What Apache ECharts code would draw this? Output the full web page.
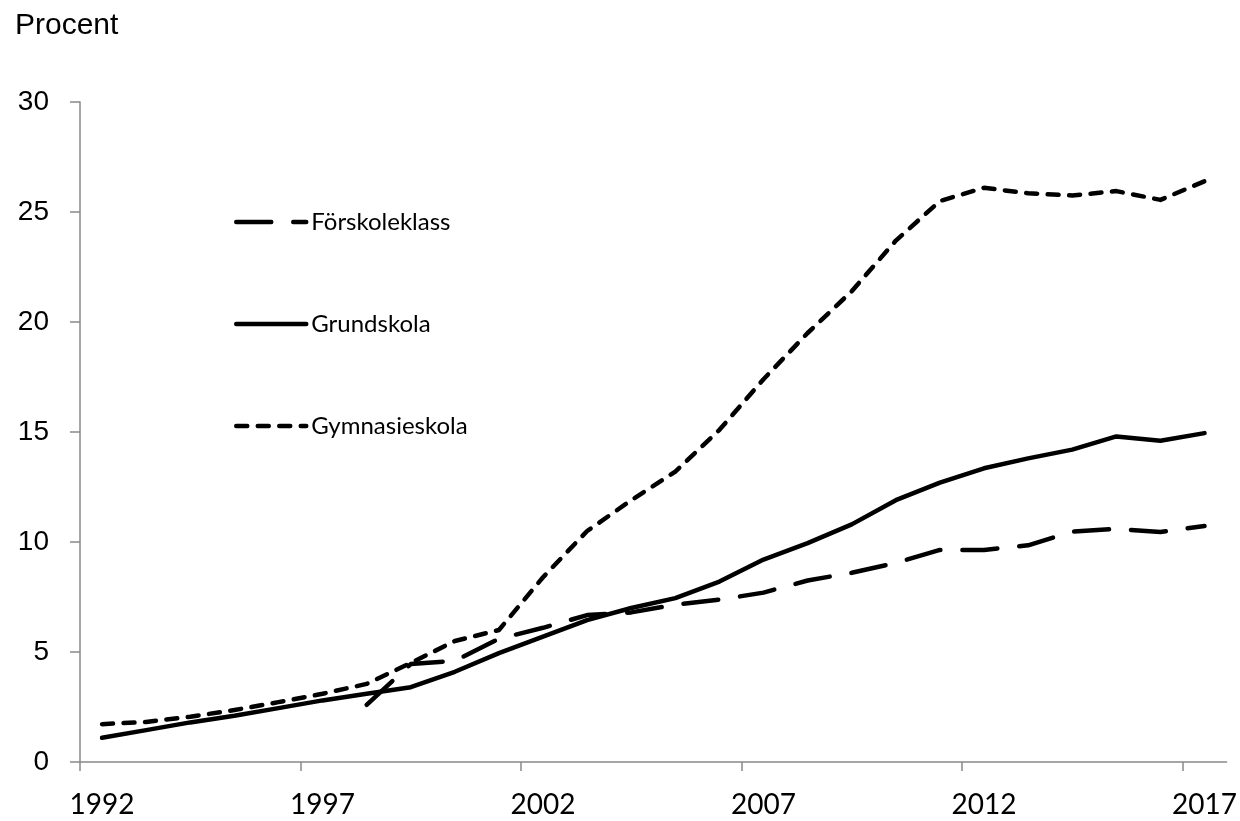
<!DOCTYPE html>
<html>
<head>
<meta charset="utf-8">
<script src="https://cdn.jsdelivr.net/npm/echarts@6/dist/echarts.min.js"></script>
<style>
html,body{margin:0;padding:0;background:#fff;}
#chart{width:1240px;height:821px;}
</style>
</head>
<body>
<div id="chart"></div>
<script>
var years = ['1992','1993','1994','1995','1996','1997','1998','1999','2000','2001','2002','2003','2004','2005','2006','2007','2008','2009','2010','2011','2012','2013','2014','2015','2016','2017'];
var forskoleklass = [null,null,null,null,null,null,2.6,4.45,4.6,5.6,6.1,6.68,6.8,7.15,7.38,7.7,8.25,8.6,9.05,9.64,9.64,9.85,10.47,10.6,10.45,10.73];
var grundskola = [1.1,1.45,1.8,2.1,2.45,2.8,3.1,3.4,4.1,4.95,5.7,6.45,7.0,7.45,8.2,9.2,9.95,10.8,11.9,12.7,13.35,13.8,14.2,14.8,14.6,14.95];
var gymnasieskola = [1.72,1.82,2.06,2.36,2.72,3.1,3.55,4.5,5.5,6.0,8.4,10.5,11.9,13.2,15.1,17.4,19.5,21.4,23.7,25.5,26.1,25.85,25.75,25.95,25.55,26.4];
var yTicks = {min:0, max:30, interval:5};
var tickEvery = 5;

var tickPositions = [];
for (var i = 0; i < years.length; i += tickEvery) tickPositions.push(i);

var chart = echarts.init(document.getElementById('chart'), null, {renderer:'canvas'});
var axisGray = '#898989';
chart.setOption({
  animation:false,
  backgroundColor:'#fff',
  title:{text:'Procent', left:15, top:11, padding:0, textStyle:{fontFamily:'Liberation Sans', fontSize:30, fontWeight:'normal', color:'#000', lineHeight:30}},
  legend:{
    orient:'vertical', left:234, top:210, padding:0, itemWidth:70, itemHeight:24, itemGap:78,
    textStyle:{fontFamily:'Lato', fontSize:24, color:'#000', lineHeight:24},
    itemStyle:{color:'rgba(0,0,0,0)', borderWidth:0, opacity:0},
    lineStyle:{width:4.5, cap:'round', join:'round'},
    data:['Förskoleklass','Grundskola','Gymnasieskola']
  },
  grid:{left:80, right:13, top:102, bottom:59, containLabel:false},
  xAxis:[{
    type:'category', data:years, boundaryGap:true,
    axisLine:{lineStyle:{color:axisGray, width:1.5}},
    axisTick:{show:false},
    axisLabel:{interval:tickEvery-1, margin:29, fontFamily:'Lato', fontSize:28, color:'#000'},
    splitLine:{show:false}
  },{
    type:'value', position:'bottom', min:0, max:years.length,
    axisLine:{show:false},
    axisTick:{show:true, length:9, customValues:tickPositions, lineStyle:{color:axisGray, width:1.5}},
    axisLabel:{show:false},
    splitLine:{show:false}
  }],
  yAxis:{
    type:'value', min:yTicks.min, max:yTicks.max, interval:yTicks.interval,
    axisLine:{show:true, lineStyle:{color:axisGray, width:1.5}},
    axisTick:{show:true, length:10, lineStyle:{color:axisGray, width:1.5}},
    axisLabel:{margin:31, fontFamily:'Liberation Sans', fontSize:28, color:'#000'},
    splitLine:{show:false}
  },
  series:[
    {name:'Förskoleklass', type:'line', xAxisIndex:0, data:forskoleklass, symbol:'none', connectNulls:false,
     lineStyle:{color:'#000', width:4.5, type:[35,22], cap:'round', join:'round'}, itemStyle:{color:'#000'}},
    {name:'Grundskola', type:'line', xAxisIndex:0, data:grundskola, symbol:'none',
     lineStyle:{color:'#000', width:4.5, type:'solid', cap:'round', join:'round'}, itemStyle:{color:'#000'}},
    {name:'Gymnasieskola', type:'line', xAxisIndex:0, data:gymnasieskola, symbol:'none',
     lineStyle:{color:'#000', width:4.5, type:[11,10.5], cap:'round', join:'round'}, itemStyle:{color:'#000'}}
  ]
});
</script>
</body>
</html>
